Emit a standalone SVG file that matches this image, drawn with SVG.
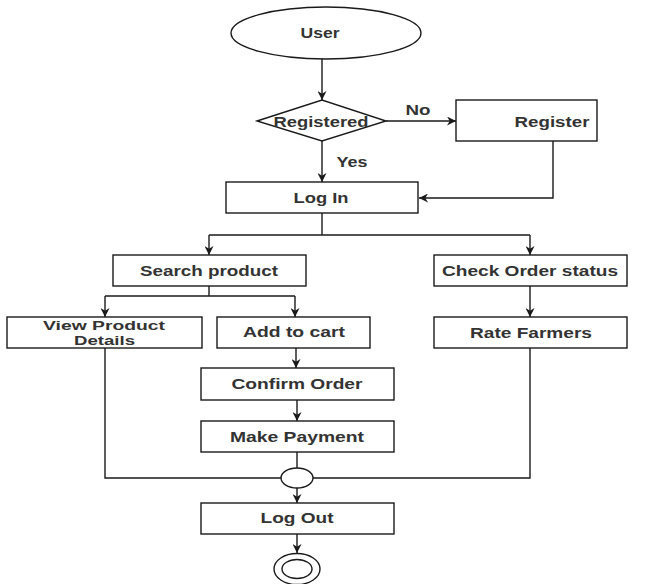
<svg xmlns="http://www.w3.org/2000/svg" width="646" height="584" viewBox="0 0 646 584">
  <defs>
    <style>
      .shape { fill: #ffffff; stroke: #1a1a1a; stroke-width: 1.4; }
      .edge { fill: none; stroke: #1a1a1a; stroke-width: 1.4; }
      .label { font-family: "Liberation Sans", Arial, sans-serif; font-size: 15px; font-weight: bold; fill: #333333; text-anchor: middle; }
      .label.small { font-size: 12.5px; }
    </style>
    <marker id="arrow" viewBox="0 0 10 10" refX="10" refY="5" markerWidth="9" markerHeight="9" markerUnits="userSpaceOnUse" orient="auto">
      <path d="M0,0 L10,5 L0,10 L3,5 Z" fill="#1a1a1a"/>
    </marker>
  </defs>
  <rect width="646" height="584" fill="#ffffff"/>

  <!-- connectors -->
  <g id="connectors">
    <path class="edge" d="M322,59 L322,100" marker-end="url(#arrow)"/>
    <path class="edge" d="M386,121 L456,121" marker-end="url(#arrow)"/>
    <path class="edge" d="M322,141 L322,182" marker-end="url(#arrow)"/>
    <path class="edge" d="M553,141 L553,198 L419,198" marker-end="url(#arrow)"/>
    <path class="edge" d="M322,213 L322,235"/>
    <path class="edge" d="M209,235 L530,235"/>
    <path class="edge" d="M209,235 L209,255" marker-end="url(#arrow)"/>
    <path class="edge" d="M530,235 L530,255" marker-end="url(#arrow)"/>
    <path class="edge" d="M209,286 L209,296"/>
    <path class="edge" d="M105,296 L295,296"/>
    <path class="edge" d="M105,296 L105,317" marker-end="url(#arrow)"/>
    <path class="edge" d="M295,296 L295,317" marker-end="url(#arrow)"/>
    <path class="edge" d="M530,286 L530,317" marker-end="url(#arrow)"/>
    <path class="edge" d="M296,348 L296,368" marker-end="url(#arrow)"/>
    <path class="edge" d="M297,400 L297,421" marker-end="url(#arrow)"/>
    <path class="edge" d="M297,452 L297,468"/>
    <path class="edge" d="M105,348 L105,478 L281,478"/>
    <path class="edge" d="M530,348 L530,478 L313,478"/>
    <path class="edge" d="M297,488 L297,503" marker-end="url(#arrow)"/>
    <path class="edge" d="M297,534 L297,553" marker-end="url(#arrow)"/>
  </g>

  <!-- nodes -->
  <g id="user">
    <ellipse class="shape" cx="326" cy="33" rx="95" ry="26"/>
    <text class="label" x="320" y="38" textLength="39" lengthAdjust="spacingAndGlyphs">User</text>
  </g>
  <g id="registered">
    <polygon class="shape" points="257,121 322,100 386,121 322,141"/>
    <text class="label" x="321" y="126.5" textLength="95" lengthAdjust="spacingAndGlyphs">Registered</text>
  </g>
  <g id="label-no">
    <text class="label" x="418" y="115" textLength="25" lengthAdjust="spacingAndGlyphs">No</text>
  </g>
  <g id="label-yes">
    <text class="label" x="352" y="167" textLength="31" lengthAdjust="spacingAndGlyphs">Yes</text>
  </g>
  <g id="register">
    <rect class="shape" x="456" y="100" width="141" height="41"/>
    <text class="label" x="552" y="127" textLength="75" lengthAdjust="spacingAndGlyphs">Register</text>
  </g>
  <g id="login">
    <rect class="shape" x="226" y="182" width="192" height="31"/>
    <text class="label" x="321" y="203" textLength="55" lengthAdjust="spacingAndGlyphs">Log In</text>
  </g>
  <g id="search-product">
    <rect class="shape" x="113" y="255" width="193" height="31"/>
    <text class="label" x="209" y="276" textLength="138" lengthAdjust="spacingAndGlyphs">Search product</text>
  </g>
  <g id="check-order-status">
    <rect class="shape" x="434" y="255" width="193" height="31"/>
    <text class="label" x="530" y="276" textLength="176" lengthAdjust="spacingAndGlyphs">Check Order status</text>
  </g>
  <g id="view-product-details">
    <rect class="shape" x="7" y="317" width="195" height="31"/>
    <text class="label small" x="104" y="329.5" textLength="122" lengthAdjust="spacingAndGlyphs">View Product</text>
    <text class="label small" x="104.5" y="345" textLength="61" lengthAdjust="spacingAndGlyphs">Details</text>
  </g>
  <g id="add-to-cart">
    <rect class="shape" x="217" y="317" width="153" height="31"/>
    <text class="label" x="294" y="337" textLength="102" lengthAdjust="spacingAndGlyphs">Add to cart</text>
  </g>
  <g id="rate-farmers">
    <rect class="shape" x="434" y="317" width="193" height="31"/>
    <text class="label" x="531" y="338" textLength="122" lengthAdjust="spacingAndGlyphs">Rate Farmers</text>
  </g>
  <g id="confirm-order">
    <rect class="shape" x="201" y="368" width="193" height="32"/>
    <text class="label" x="297" y="389" textLength="131" lengthAdjust="spacingAndGlyphs">Confirm Order</text>
  </g>
  <g id="make-payment">
    <rect class="shape" x="201" y="421" width="193" height="31"/>
    <text class="label" x="297" y="442" textLength="134" lengthAdjust="spacingAndGlyphs">Make Payment</text>
  </g>
  <g id="merge">
    <ellipse class="shape" cx="297" cy="478" rx="16" ry="10"/>
  </g>
  <g id="logout">
    <rect class="shape" x="201" y="503" width="193" height="31"/>
    <text class="label" x="297" y="523" textLength="73" lengthAdjust="spacingAndGlyphs">Log Out</text>
  </g>
  <g id="end">
    <ellipse class="shape" cx="297" cy="569" rx="23" ry="15.5"/>
    <ellipse class="shape" cx="297" cy="569" rx="15" ry="9.5"/>
  </g>
</svg>
